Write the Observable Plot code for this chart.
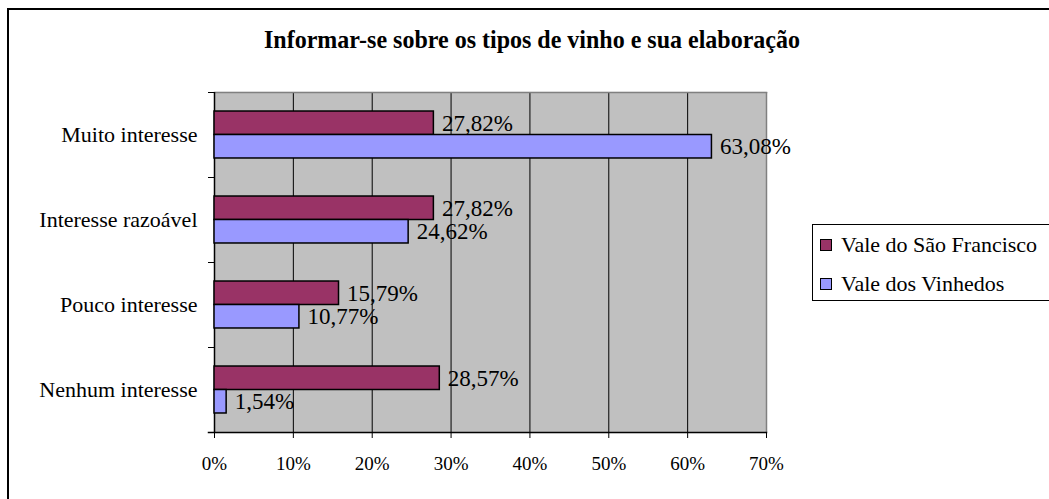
<!DOCTYPE html>
<html>
<head>
<meta charset="utf-8">
<script src="https://cdn.jsdelivr.net/npm/d3@7"></script>
<script src="https://cdn.jsdelivr.net/npm/@observablehq/plot@0.6"></script>
<style>
  html, body { margin: 0; padding: 0; background: #fff; }
  #wrap { position: relative; width: 1049px; height: 499px; overflow: hidden; font-family: "Liberation Serif", "Times New Roman", serif; }
  #border { position: absolute; left: 7px; top: 8px; width: 1100px; height: 600px; border: 2px solid #000; box-sizing: border-box; pointer-events: none; }
  #title { position: absolute; left: 0; width: 1064px; top: 27px; text-align: center; font-weight: bold; font-size: 24px; color: #000; transform: scaleY(1.05); }
  #legend { position: absolute; left: 812px; top: 224px; width: 250px; height: 77px; border: 1px solid #000; background: #fff; box-sizing: border-box; }
  .row { position: absolute; left: 7px; display: flex; align-items: center; font-size: 22px; white-space: nowrap; height: 24px; }
  .sw { width: 10px; height: 10px; border: 1.5px solid #000; margin-right: 9px; }
  #chart { position: absolute; left: 0; top: 0; }
</style>
</head>
<body>
<div id="wrap">
  <div id="chart"></div>
  <div id="border"></div>
  <div id="title"></div>
  <div id="legend"></div>
</div>
<script>
const title = "Informar-se sobre os tipos de vinho e sua elaboração";
const categories = ["Muito interesse", "Interesse razoável", "Pouco interesse", "Nenhum interesse"];
const seriesNames = ["Vale do São Francisco", "Vale dos Vinhedos"];
const saoFrancisco = [27.82, 27.82, 15.79, 28.57];
const vinhedos = [63.08, 24.62, 10.77, 1.54];
const xTicks = [0, 10, 20, 30, 40, 50, 60, 70];
const colors = ["#993366", "#9999FF"];

const data = [];
categories.forEach((c, i) => {
  data.push({category: c, series: seriesNames[0], value: saoFrancisco[i]});
  data.push({category: c, series: seriesNames[1], value: vinhedos[i]});
});
const fmt = v => v.toFixed(2).replace(".", ",") + "%";

const chart = Plot.plot({
  width: 1049,
  height: 499,
  marginLeft: 214,
  marginRight: 283,
  marginTop: 92,
  marginBottom: 67,
  style: {fontFamily: "'Liberation Serif', 'Times New Roman', serif", background: "transparent", color: "#000"},
  x: {domain: [0, 70], axis: null},
  fy: {domain: categories, padding: 0, axis: null, round: false},
  y: {domain: seriesNames, paddingInner: 0, paddingOuter: 0.81, axis: null, round: false},
  color: {domain: seriesNames, range: colors},
  marks: [
    Plot.frame({fill: "#c0c0c0", stroke: "none", insetTop: -0.6, insetBottom: -0.6}),
    Plot.ruleX(xTicks.slice(1, -1), {stroke: "#000", strokeWidth: 1}),
    Plot.ruleX(xTicks.slice(-1), {stroke: "#808080", strokeWidth: 1.5}),
    Plot.frame({anchor: "top", stroke: "#808080", strokeWidth: 1.5, facetAnchor: "top"}),
    Plot.frame({anchor: "top", stroke: "#000", insetLeft: -6, strokeDasharray: "6 5000"}),
    Plot.frame({anchor: "bottom", stroke: "#000", strokeWidth: 1.5, insetLeft: -6, facetAnchor: "bottom"}),
    Plot.ruleX([0], {stroke: "#000", strokeWidth: 1.5}),
    Plot.barX(data, {fy: "category", y: "series", x: "value", fill: "series", stroke: "#000", strokeWidth: 1.5}),
    Plot.text(data, {fy: "category", y: "series", x: "value", text: d => fmt(d.value), textAnchor: "start", dx: 8, fontSize: 23, fill: "#000"}),
    Plot.axisX({ticks: xTicks, tickFormat: d => d + "%", tickSize: 6, tickPadding: 18, fontSize: 19, stroke: "#000", label: null}),
    Plot.axisFy({anchor: "left", tickSize: 0, tickPadding: 17, fontSize: 22, label: null})
  ]
});
document.getElementById("chart").appendChild(chart);
document.getElementById("title").textContent = title;

const legend = document.getElementById("legend");
seriesNames.forEach((s, i) => {
  const row = document.createElement("div");
  row.className = "row";
  row.style.top = (8 + i * 39) + "px";
  const sw = document.createElement("div");
  sw.className = "sw";
  sw.style.background = colors[i];
  const t = document.createElement("span");
  t.textContent = s;
  row.appendChild(sw);
  row.appendChild(t);
  legend.appendChild(row);
});
</script>
</body>
</html>
